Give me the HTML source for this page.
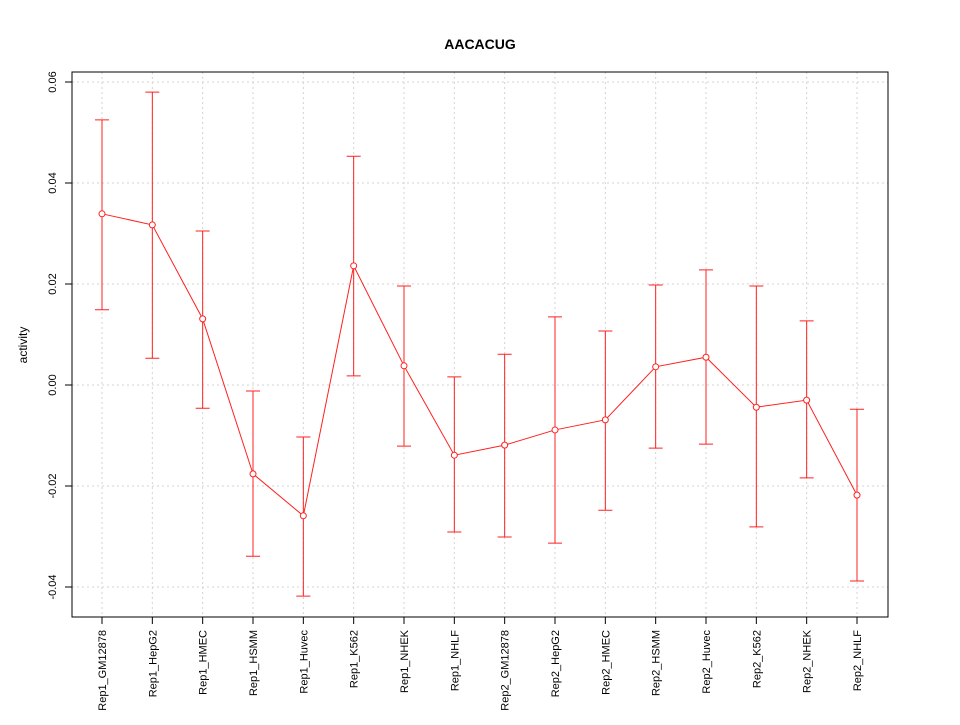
<!DOCTYPE html>
<html><head><meta charset="utf-8"><style>
html,body{margin:0;padding:0;background:#fff;}
svg text{font-family:"Liberation Sans",sans-serif;}
</style></head><body>
<svg id="chart" width="960" height="720" xmlns="http://www.w3.org/2000/svg">
<rect width="960" height="720" fill="#fff"/>
<text x="480" y="49" text-anchor="middle" font-size="14" font-weight="bold">AACACUG</text>
<text transform="translate(27,345) rotate(-90)" text-anchor="middle" font-size="12">activity</text>
<g id="grid"></g><g id="axes"></g><g id="marks"></g>
<rect x="72" y="72" width="816" height="545" fill="none" stroke="#000"/>
</svg>
<script>
const categories = ["Rep1_GM12878","Rep1_HepG2","Rep1_HMEC","Rep1_HSMM","Rep1_Huvec","Rep1_K562","Rep1_NHEK","Rep1_NHLF","Rep2_GM12878","Rep2_HepG2","Rep2_HMEC","Rep2_HSMM","Rep2_Huvec","Rep2_K562","Rep2_NHEK","Rep2_NHLF"];
const values = [0.0339,0.0317,0.0131,-0.0176,-0.0259,0.0236,0.0038,-0.0139,-0.0119,-0.0089,-0.0069,0.0036,0.0055,-0.0044,-0.0030,-0.0218];
const upper = [0.0525,0.0580,0.0305,-0.0012,-0.0103,0.0453,0.0196,0.0016,0.0061,0.0135,0.0107,0.0198,0.0228,0.0196,0.0127,-0.0048];
const lower = [0.0149,0.0053,-0.0046,-0.0339,-0.0418,0.0018,-0.0121,-0.0291,-0.0301,-0.0313,-0.0248,-0.0125,-0.0117,-0.0281,-0.0184,-0.0388];
const yTicks = [-0.04,-0.02,0.00,0.02,0.04,0.06];
const yTickLabels = ["-0.04","-0.02","0.00","0.02","0.04","0.06"];

const NS="http://www.w3.org/2000/svg";
function y(v){return 385-(v/0.02)*101;}
function x(i){return 102+i*(755/(categories.length-1));}
function mk(tag,attrs,parent){const e=document.createElementNS(NS,tag);for(const k in attrs)e.setAttribute(k,attrs[k]);document.getElementById(parent).appendChild(e);return e;}
const grid="grid",axes="axes",marks="marks";
categories.forEach((c,i)=>{
  const g=mk("line",{x1:x(i),x2:x(i),y1:72,y2:617,stroke:"#d3d3d3","stroke-dasharray":"2,3"},grid);
  
  
  const t=mk("line",{x1:x(i),x2:x(i),y1:617,y2:624,stroke:"#000"},axes);
  
  
  const l=mk("text",{transform:`translate(${x(i)+4},630) rotate(-90)`,"text-anchor":"end","font-size":"11"},axes);
  l.textContent=c;
  
  
});
yTicks.forEach((v,i)=>{
  const g=mk("line",{x1:72,x2:888,y1:y(v),y2:y(v),stroke:"#d3d3d3","stroke-dasharray":"2,3"},grid);
  
  
  const t=mk("line",{x1:65,x2:72,y1:y(v),y2:y(v),stroke:"#000"},axes);
  
  
  const l=mk("text",{transform:`translate(56,${y(v)}) rotate(-90)`,"text-anchor":"middle","font-size":"11"},axes);
  l.textContent=yTickLabels[i];
  
  
});
const ya=mk("line",{x1:72,x2:72,y1:y(yTicks[0]),y2:y(yTicks[yTicks.length-1]),stroke:"#000"},axes);


const xa=mk("line",{x1:x(0),x2:x(categories.length-1),y1:617,y2:617,stroke:"#000"},axes);


values.forEach((v,i)=>{
  const e=mk("path",{d:`M${x(i)},${y(upper[i])}V${y(lower[i])}M${x(i)-7},${y(upper[i])}H${x(i)+7}M${x(i)-7},${y(lower[i])}H${x(i)+7}`,stroke:"#ff2020","stroke-width":"1",fill:"none"},marks);
  
  
});
const line=mk("polyline",{points:values.map((v,i)=>x(i)+","+y(v)).join(" "),fill:"none",stroke:"#ff2020","stroke-width":"1"},marks);


values.forEach((v,i)=>{
  const p=mk("circle",{cx:x(i),cy:y(v),r:3,fill:"#fff",stroke:"#ff2020"},marks);
  
  
});
</script>
</body></html>
